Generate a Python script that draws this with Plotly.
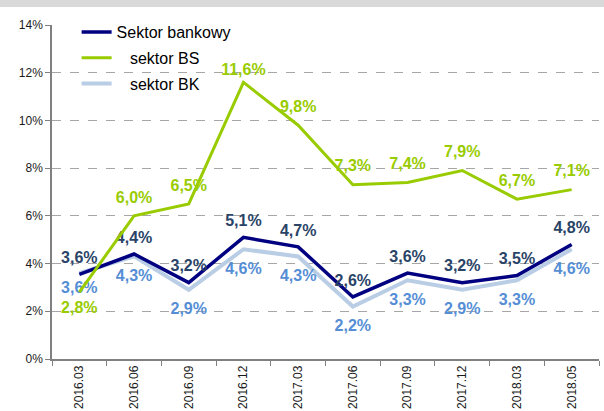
import plotly.graph_objects as go

# dane
okresy = ['2016.03', '2016.06', '2016.09', '2016.12', '2017.03',
          '2017.06', '2017.09', '2017.12', '2018.03', '2018.05']
bankowy = [3.55, 4.4, 3.2, 5.1, 4.7, 2.6, 3.6, 3.2, 3.5, 4.8]
bankowy_lab = ['3,6%', '4,4%', '3,2%', '5,1%', '4,7%', '2,6%', '3,6%', '3,2%', '3,5%', '4,8%']
bs = [2.8, 6.0, 6.5, 11.6, 9.8, 7.3, 7.4, 7.9, 6.7, 7.1]
bs_lab = ['2,8%', '6,0%', '6,5%', '11,6%', '9,8%', '7,3%', '7,4%', '7,9%', '6,7%', '7,1%']
bk = [3.6, 4.3, 2.9, 4.6, 4.3, 2.2, 3.3, 2.9, 3.3, 4.6]
bk_lab = ['3,6%', '4,3%', '2,9%', '4,6%', '4,3%', '2,2%', '3,3%', '2,9%', '3,3%', '4,6%']

W, H = 604, 411
ml, mr, mt, mb = 52, 5, 25, 52
ph = H - mt - mb

# niewidoczne markery odsuwaja etykiety od linii
ghost = 'rgba(0,0,0,0)'
lab_font = dict(size=16, family='Liberation Sans, Arial', weight='bold')

fig = go.Figure()

bk_size = [11] + [18] * 9
fig.add_trace(go.Scatter(x=okresy, y=bk, name='\u00a0\u00a0\u00a0sektor BK', mode='lines+markers+text',
                         line=dict(color='#b9cde5', width=4),
                         marker=dict(size=bk_size, color=ghost, line=dict(width=0)),
                         text=bk_lab, textposition='bottom center',
                         textfont=dict(color='#558ed5', **lab_font),
                         hoverinfo='skip', legendrank=3, legendgroup='c'))
fig.add_trace(go.Scatter(x=okresy, y=bankowy, name='Sektor bankowy', mode='lines+markers+text',
                         line=dict(color='#000080', width=3.5),
                         marker=dict(size=10, color=ghost, line=dict(width=0)),
                         text=bankowy_lab, textposition='top center',
                         textfont=dict(color='#2a4468', **lab_font),
                         hoverinfo='skip', legendrank=1, legendgroup='a'))
bs_pos = ['bottom center'] + ['top center'] * 9
bs_size = [12, 12, 12, 4, 13, 14, 13, 13, 13, 13]
fig.add_trace(go.Scatter(x=okresy, y=bs, name='\u00a0\u00a0\u00a0sektor BS', mode='lines+markers+text',
                         line=dict(color='#99cc00', width=3),
                         marker=dict(size=bs_size, color=ghost, line=dict(width=0)),
                         text=bs_lab, textposition=bs_pos,
                         textfont=dict(color='#99cc00', **lab_font),
                         hoverinfo='skip', legendrank=2, legendgroup='b'))

# szary pasek u gory
fig.add_shape(type='rect', xref='paper', yref='paper', x0=-1, x1=2,
              y0=1 + (mt - 7) / ph, y1=1 + mt / ph + 0.01,
              fillcolor='#d9d9d9', line=dict(width=0), layer='below')

fig.update_layout(
    width=W, height=H,
    margin=dict(l=ml, r=mr, t=mt, b=mb, autoexpand=False),
    paper_bgcolor='white', plot_bgcolor='white',
    font=dict(family='Liberation Sans, Arial', color='#1a1a1a', size=12),
    showlegend=True,
    legend=dict(x=0.045, y=1 + 10 / ph, xanchor='left', yanchor='top',
                bgcolor='rgba(0,0,0,0)', font=dict(size=16, color='#000000'),
                tracegroupgap=2, itemwidth=30),
    xaxis=dict(type='category', tickangle=-90, showgrid=False,
               showline=True, linecolor='#808080', linewidth=1.5,
               ticks='outside', tickson='boundaries', ticklen=5, tickcolor='#808080',
               tickfont=dict(size=12, color='#1a1a1a'), automargin=False,
               range=[-0.5, 9.5]),
    yaxis=dict(range=[0, 14], dtick=2, ticksuffix='%',
               showgrid=True, gridcolor='#a6a6a6', griddash='dash', gridwidth=1,
               showline=True, linecolor='#808080', linewidth=1.5,
               ticks='outside', ticklen=5, tickcolor='#808080',
               zeroline=False, automargin=False,
               tickfont=dict(size=12, color='#1a1a1a')),
)

fig.write_html("out.html", config={'displayModeBar': False},
               post_script="document.body.style.margin='0';")
